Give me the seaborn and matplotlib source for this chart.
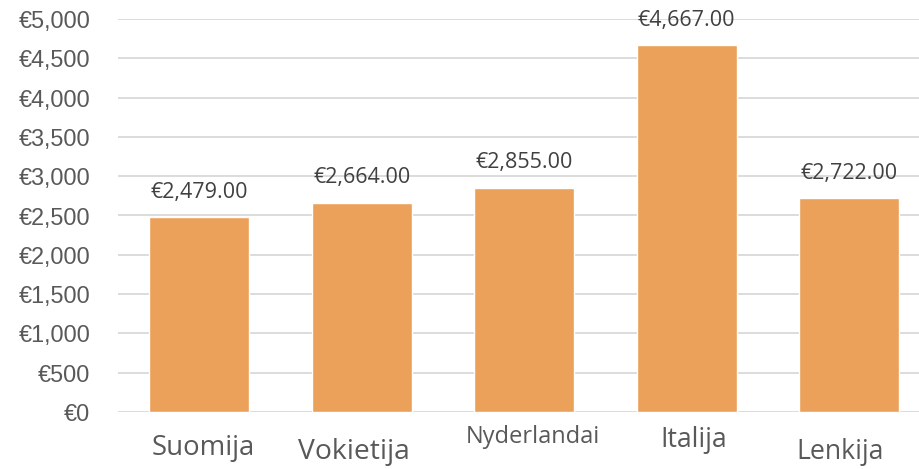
import matplotlib
matplotlib.use("Agg")
import matplotlib.pyplot as plt
import seaborn as sns
import pandas as pd
from matplotlib.ticker import FuncFormatter, MultipleLocator

countries = ["Suomija", "Vokietija", "Nyderlandai", "Italija", "Lenkija"]
values = [2479, 2664, 2855, 4667, 2722]

df = pd.DataFrame({"country": countries, "value": values})

sns.set_theme(style="white")
plt.rcParams["font.family"] = ["Open Sans", "DejaVu Sans"]

BAR = "#ECA15A"
TXT = "#595959"

fig = plt.figure(figsize=(9.19, 4.69), dpi=100)
# axes placed in pixels: left 118, bar spacing 162.5px, y 0 at 412px, 5000 at 19px
ax = fig.add_axes([118 / 919, (469 - 412) / 469, 812.5 / 919, 393 / 469])

sns.barplot(data=df, x="country", y="value", color=BAR, width=0.615,
            saturation=1, ax=ax, zorder=2)

ax.set_ylim(0, 5000)
ax.set_xlim(-0.5, 4.5)
ax.yaxis.set_major_locator(MultipleLocator(500))
ax.yaxis.set_major_formatter(FuncFormatter(lambda v, p: f"€{v:,.0f}"))
ax.grid(axis="y", color="#D9D9D9", linewidth=1.3, zorder=0)
ax.set_axisbelow(True)
for s in ax.spines.values():
    s.set_visible(False)
ax.tick_params(axis="y", length=0, pad=20, labelsize=16.8, labelcolor=TXT,
               labelfontfamily="Liberation Sans")
ax.set_xlabel("")
ax.set_ylabel("")
ax.set_xticks(range(len(countries)))
ax.set_xticklabels([])
ax.tick_params(axis="x", length=0)

# value labels above bars
for i, v in enumerate(values):
    ax.annotate(f"€{v:,.2f}", xy=(i, v), xytext=(0, 18), textcoords="offset points",
                ha="center", va="center", fontsize=15.5, color="#404040")

# category labels (slightly uneven placement as in the original)
label_dx = [4, -8, 9, 7, -9]
label_dy = [36, 40, 25, 28, 40]
label_size = [19.8, 20.3, 17, 19.2, 19.2]
for i, name in enumerate(countries):
    ax.annotate(name, xy=(i, 0), xycoords=("data", "axes fraction"),
                xytext=(label_dx[i] * 0.72, -label_dy[i] * 0.72),
                textcoords="offset points", ha="center", va="center",
                fontsize=label_size[i], color=TXT, annotation_clip=False)

fig.savefig("out.png", dpi=100)
